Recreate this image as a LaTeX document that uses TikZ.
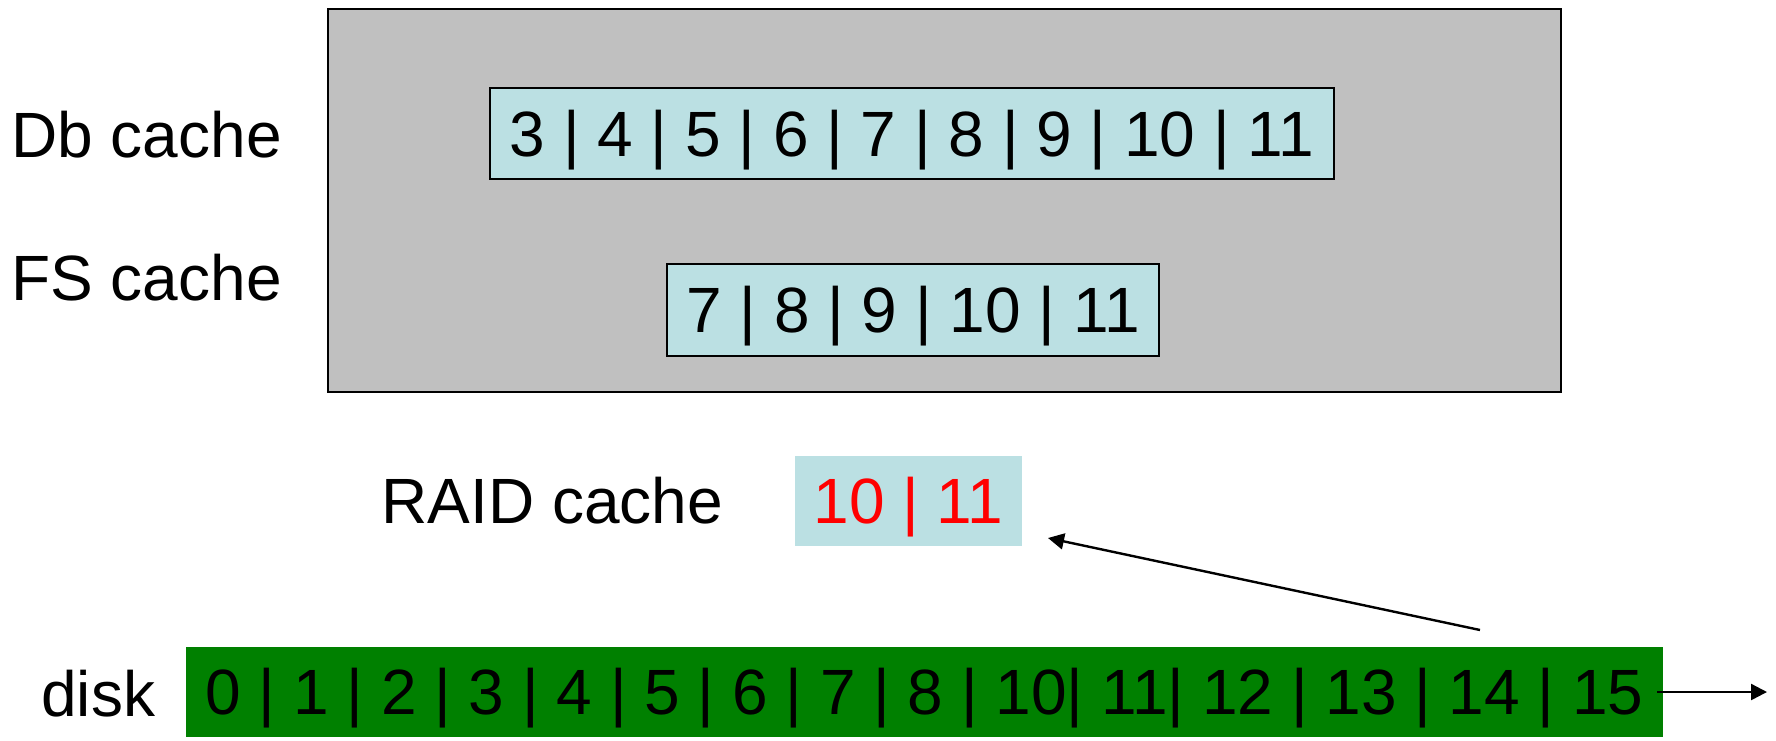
\documentclass[tikz,border=0pt]{standalone}
\usepackage{fontspec}
\setmainfont{Liberation Sans}
\usetikzlibrary{arrows.meta}
\definecolor{panelgray}{RGB}{192,192,192}
\definecolor{cacheblue}{RGB}{187,224,227}
\definecolor{diskgreen}{RGB}{0,128,0}
\begin{document}
\begin{tikzpicture}[x=0.5pt,y=-0.5pt,
  every node/.style={font=\fontsize{32pt}{38pt}\selectfont},
  label/.style={anchor=base west,inner sep=0pt},
  cachebox/.style={fill=cacheblue,inner sep=0pt,text height=22.9pt,text depth=0pt},
  framed/.style={cachebox,draw=black,line width=0.75pt},
  link/.style={line width=1.2pt,-{Triangle[length=8pt,width=8pt]}}
]
\useasboundingbox (0,0) rectangle (1776,740);

% host memory panel
\node[draw=black,line width=1pt,fill=panelgray,minimum width=616.5pt,minimum height=191.5pt,inner sep=0pt]
  (host) at (944.5,200.5) {};

% cache contents
\node[framed,minimum width=422pt,minimum height=45.5pt] (db) at (912,133.5)
  {3 | 4 | 5 | 6 | 7 | 8 | 9 | 10 | 11};
\node[framed,minimum width=246pt,minimum height=46pt] (fs) at (913,310)
  {7 | 8 | 9 | 10 | 11};
\node[cachebox,minimum width=113.5pt,minimum height=45pt,text=red] (raid) at (908.5,501)
  {10 | 11};
\node[cachebox,fill=diskgreen,minimum width=738.5pt,minimum height=45pt] (disk) at (924.5,692)
  {0 | 1 | 2 | 3 | 4 | 5 | 6 | 7 | 8 | 10| 11| 12 | 13 | 14 | 15};

% labels
\node[label] (dblabel) at (11,157) {Db cache};
\node[label] (fslabel) at (11,300) {FS cache};
\node[label] (raidlabel) at (381,523) {RAID cache};
\node[label] (disklabel) at (41,716) {disk};

% read-ahead arrows
\coordinate (src) at (1480,630);
\coordinate (dst) at (1048,538);
\coordinate (out) at (1767,692);
\draw[link] (src) -- (dst);
\draw[link] ([xshift=-3pt]disk.east) -- (out);
\end{tikzpicture}
\end{document}
